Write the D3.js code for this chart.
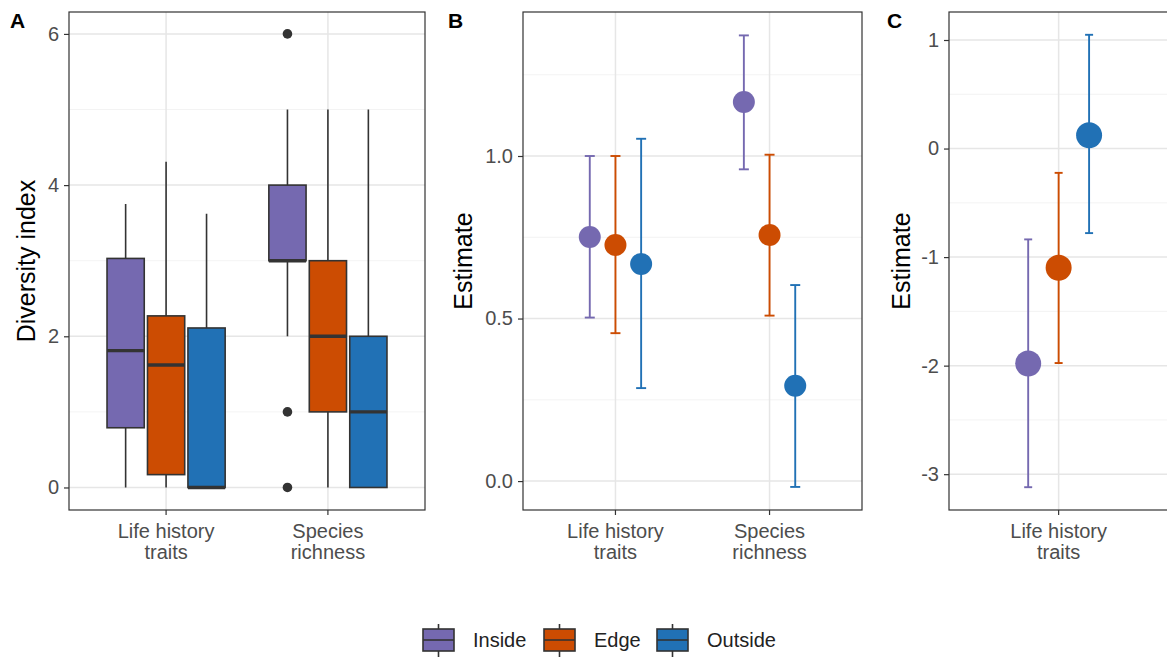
<!DOCTYPE html>
<html>
<head>
<meta charset="utf-8">
<script src="https://cdn.jsdelivr.net/npm/d3@7"></script>
<style>
  body { margin: 0; background: #fff; }
  text { font-family: "Liberation Sans", Arial, sans-serif; }
</style>
</head>
<body>
<svg id="chart" width="1167" height="658"></svg>
<script>
const groups = ['Inside', 'Edge', 'Outside'];
const colors = ['#7569b0', '#cc4c02', '#2171b5'];
const categories = [['Life history', 'traits'], ['Species', 'richness']];
const categoriesC = [['Life history', 'traits']];

// box stats: category index, group, lower whisker, q1, median, q3, upper whisker
const boxStats = [
  [0, 'Inside', 0, 0.79, 1.81, 3.03, 3.75],
  [0, 'Edge', 0, 0.17, 1.62, 2.27, 4.31],
  [0, 'Outside', 0, 0, 0, 2.11, 3.62],
  [1, 'Inside', 2, 3, 3, 4, 5],
  [1, 'Edge', 0, 1, 2, 3, 5],
  [1, 'Outside', 0, 0, 1, 2, 5]
];
const boxOutliers = [
  [1, 'Inside', 6],
  [1, 'Inside', 1],
  [1, 'Inside', 0]
];

// estimates: category index, group, estimate, lower, upper
const estB = [
  [0, 'Inside', 0.751, 0.503, 1.0],
  [0, 'Edge', 0.726, 0.455, 1.0],
  [0, 'Outside', 0.668, 0.286, 1.053],
  [1, 'Inside', 1.166, 0.959, 1.371],
  [1, 'Edge', 0.757, 0.509, 1.004],
  [1, 'Outside', 0.293, -0.018, 0.603]
];
const estC = [
  [0, 'Inside', -1.98, -3.12, -0.837],
  [0, 'Edge', -1.098, -1.976, -0.224],
  [0, 'Outside', 0.122, -0.779, 1.048]
];

const ticksA = [0, 2, 4, 6];
const minorA = [1, 3, 5];
const ticksB = [0, 0.5, 1];
const minorB = [0.25, 0.75, 1.25];
const ticksC = [-3, -2, -1, 0, 1];
const minorC = [-2.5, -1.5, -0.5, 0.5];

const svg = d3.select('#chart');
const color = d3.scaleOrdinal().domain(groups).range(colors);
const dodge = d3.scaleOrdinal().domain(groups).range([-1, 0, 1]);

function panel(opt) {
  let g = svg.append('g');
  let x = d3.scaleLinear().domain([0.4, 2.6]).range([opt.left, opt.right]);
  let y = d3.scaleLinear().domain(opt.yDomain).range([opt.bottom, opt.top]);

  g.append('rect')
    .attr('x', opt.left).attr('y', opt.top)
    .attr('width', opt.right - opt.left).attr('height', opt.bottom - opt.top)
    .attr('fill', '#fff');

  g.selectAll('.minor').data(opt.minor).enter().append('line')
    .attr('x1', opt.left).attr('x2', opt.right)
    .attr('y1', d => y(d)).attr('y2', d => y(d))
    .attr('stroke', '#f0f0f0').attr('stroke-width', 0.8);
  g.selectAll('.major').data(opt.ticks).enter().append('line')
    .attr('x1', opt.left).attr('x2', opt.right)
    .attr('y1', d => y(d)).attr('y2', d => y(d))
    .attr('stroke', '#e6e6e6').attr('stroke-width', 1.5);
  g.selectAll('.vmajor').data(categories).enter().append('line')
    .attr('x1', (d, i) => x(i + 1)).attr('x2', (d, i) => x(i + 1))
    .attr('y1', opt.top).attr('y2', opt.bottom)
    .attr('stroke', '#e6e6e6').attr('stroke-width', 1.5);

  // y axis
  let yAxis = d3.axisLeft(y).tickValues(opt.ticks).tickSize(5).tickPadding(5)
    .tickFormat(opt.fmt);
  let ya = g.append('g').attr('transform', 'translate(' + opt.left + ',0)').call(yAxis);
  ya.select('.domain').remove();
  ya.selectAll('line').attr('stroke', '#333').attr('stroke-width', 1.2);
  ya.selectAll('text').attr('fill', '#4d4d4d').style('font-size', '20px')
    .style('font-family', '"Liberation Sans", Arial, sans-serif');

  // x axis
  let xa = g.selectAll('.xt').data(opt.cats).enter().append('g')
    .attr('transform', (d, i) => 'translate(' + x(i + 1) + ',' + opt.bottom + ')');
  xa.append('line').attr('y1', 0).attr('y2', 5).attr('stroke', '#333').attr('stroke-width', 1.2);
  xa.append('text').attr('text-anchor', 'middle').attr('fill', '#4d4d4d')
    .style('font-size', '20px')
    .selectAll('tspan').data(d => d).enter().append('tspan')
    .attr('x', 0).attr('y', (d, i) => 28 + i * 21).text(d => d);

  // axis title
  svg.append('text')
    .attr('transform', 'translate(' + opt.titleX + ',' + ((opt.top + opt.bottom) / 2) + ') rotate(-90)')
    .attr('text-anchor', 'middle').attr('dominant-baseline', 'central')
    .style('font-size', '25px').attr('fill', '#000').text(opt.title);

  // panel letter
  svg.append('text').attr('x', opt.labelX).attr('y', 28)
    .style('font-size', '21px').style('font-weight', 'bold').text(opt.label);

  opt.draw(g, x, y);

  g.append('rect')
    .attr('x', opt.left).attr('y', opt.top)
    .attr('width', opt.right - opt.left).attr('height', opt.bottom - opt.top)
    .attr('fill', 'none').attr('stroke', '#333').attr('stroke-width', 1.2);
}

function drawBoxes(g, x, y) {
  let bw = 0.23, off = 0.25;
  let cx = d => x(d[0] + 1 + dodge(d[1]) * off);
  let bx = g.selectAll('.box').data(boxStats).enter().append('g');
  bx.append('line')
    .attr('x1', cx).attr('x2', cx)
    .attr('y1', d => y(d[2])).attr('y2', d => y(d[6]))
    .attr('stroke', '#333').attr('stroke-width', 1.6);
  bx.append('rect')
    .attr('x', d => x(d[0] + 1 + dodge(d[1]) * off - bw / 2))
    .attr('width', x(bw) - x(0))
    .attr('y', d => y(d[5]))
    .attr('height', d => y(d[3]) - y(d[5]))
    .attr('fill', d => color(d[1]))
    .attr('stroke', '#333').attr('stroke-width', 1.6);
  bx.append('line')
    .attr('x1', d => x(d[0] + 1 + dodge(d[1]) * off - bw / 2))
    .attr('x2', d => x(d[0] + 1 + dodge(d[1]) * off + bw / 2))
    .attr('y1', d => y(d[4])).attr('y2', d => y(d[4]))
    .attr('stroke', '#333').attr('stroke-width', 3.4);
  g.selectAll('.out').data(boxOutliers).enter().append('circle')
    .attr('cx', cx).attr('cy', d => y(d[2])).attr('r', 4.8)
    .attr('fill', '#333');
}

function drawEstimates(data, r, cap) {
  return function (g, x, y) {
    let cx = d => x(d[0] + 1 + dodge(d[1]) / 6);
    let e = g.selectAll('.est').data(data).enter().append('g');
    e.append('line')
      .attr('x1', cx).attr('x2', cx)
      .attr('y1', d => y(d[3])).attr('y2', d => y(d[4]))
      .attr('stroke', d => color(d[1])).attr('stroke-width', 1.9);
    [3, 4].forEach(k => {
      e.append('line')
        .attr('x1', d => cx(d) - cap).attr('x2', d => cx(d) + cap)
        .attr('y1', d => y(d[k])).attr('y2', d => y(d[k]))
        .attr('stroke', d => color(d[1])).attr('stroke-width', 1.9);
    });
    e.append('circle')
      .attr('cx', cx).attr('cy', d => y(d[2])).attr('r', r)
      .attr('fill', d => color(d[1]));
  };
}

const intFmt = d => String(d);

panel({
  left: 69, right: 425, top: 12, bottom: 510,
  yDomain: [-0.298, 6.29], ticks: ticksA, minor: minorA, fmt: intFmt, cats: categories,
  title: 'Diversity index', titleX: 26, label: 'A', labelX: 10,
  draw: drawBoxes
});
panel({
  left: 523, right: 862, top: 12, bottom: 510,
  yDomain: [-0.089, 1.443], ticks: ticksB, minor: minorB, fmt: d3.format('.1f'), cats: categories,
  title: 'Estimate', titleX: 463, label: 'B', labelX: 448,
  draw: drawEstimates(estB, 11, 5)
});
panel({
  left: 949, right: 1351, top: 12, bottom: 510,
  yDomain: [-3.33, 1.258], ticks: ticksC, minor: minorC, fmt: intFmt, cats: categoriesC,
  title: 'Estimate', titleX: 901, label: 'C', labelX: 887,
  draw: drawEstimates(estC, 13, 4)
});

// legend
let legendX = d3.scaleOrdinal().domain(groups).range([423, 544, 657]);
let lg = svg.selectAll('.leg').data(groups).enter().append('g')
  .attr('transform', d => 'translate(' + legendX(d) + ',0)');
lg.append('line').attr('x1', 15.5).attr('x2', 15.5).attr('y1', 624).attr('y2', 657)
  .attr('stroke', '#333').attr('stroke-width', 1.6);
lg.append('rect').attr('x', 0).attr('y', 629).attr('width', 31).attr('height', 22)
  .attr('fill', d => color(d)).attr('stroke', '#333').attr('stroke-width', 1.6);
lg.append('line').attr('x1', 0).attr('x2', 31).attr('y1', 640).attr('y2', 640)
  .attr('stroke', '#333').attr('stroke-width', 1.6);
lg.append('text').attr('x', 50).attr('y', 647).style('font-size', '20px')
  .attr('fill', '#222').text(d => d);
</script>
</body>
</html>
